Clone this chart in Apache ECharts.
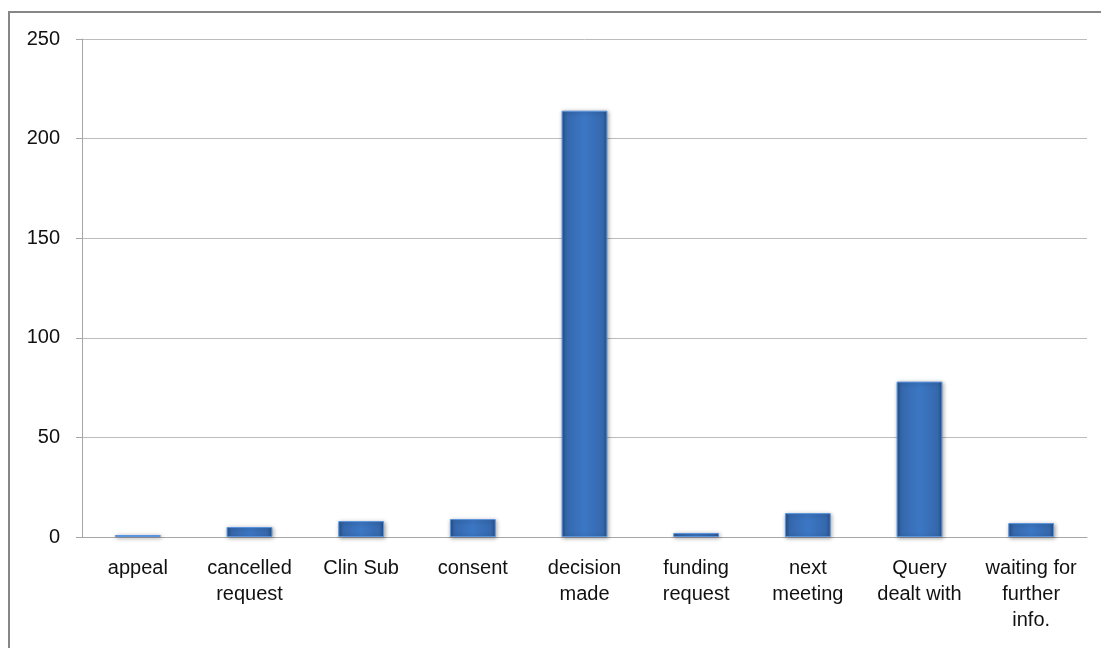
<!DOCTYPE html>
<html>
<head>
<meta charset="utf-8">
<script src="https://cdn.jsdelivr.net/npm/echarts@6/dist/echarts.min.js"></script>
<style>
  html, body { margin: 0; padding: 0; background: #fff; }
  #chart { width: 1101px; height: 648px; }
</style>
</head>
<body>
<div id="chart"></div>
<script>
// category labels (as wrapped in the picture)
var categories = ['appeal', 'cancelled\nrequest', 'Clin Sub', 'consent', 'decision\nmade',
                  'funding\nrequest', 'next\nmeeting', 'Query\ndealt with', 'waiting for\nfurther\ninfo.'];
var counts = [1, 5, 8, 9, 214, 2, 12, 78, 7];
var yTicks = [0, 50, 100, 150, 200, 250];

var chart = echarts.init(document.getElementById('chart'));
var font = "'Liberation Sans', Arial, sans-serif";

var option = {
    animation: false,
    backgroundColor: '#fff',
    graphic: [{
        type: 'rect',
        shape: { x: 9, y: 12, width: 1300, height: 900 },
        style: { fill: 'none', stroke: '#878787', lineWidth: 2 }
    }],
    grid: { left: 82, right: 14, top: 39, bottom: 111 },
    xAxis: {
        type: 'category',
        data: categories,
        axisTick: { show: false },
        axisLine: { lineStyle: { color: '#a6a6a6', width: 1 } },
        axisLabel: {
            interval: 0,
            margin: 18,
            color: '#111',
            fontFamily: font,
            fontSize: 20,
            lineHeight: 26
        }
    },
    yAxis: {
        type: 'value',
        min: yTicks[0],
        max: yTicks[yTicks.length - 1],
        interval: 50,
        axisLine: { show: true, lineStyle: { color: '#a6a6a6' } },
        axisTick: { show: true, length: 6, lineStyle: { color: '#a6a6a6' } },
        splitLine: { lineStyle: { color: '#bcbcbc' } },
        axisLabel: {
            margin: 22,
            color: '#111',
            fontFamily: font,
            fontSize: 20
        }
    },
    series: [{
        type: 'bar',
        data: counts,
        barWidth: '41%',
        itemStyle: {
            color: new echarts.graphic.LinearGradient(0, 0, 1, 0, [
                { offset: 0, color: '#284f86' },
                { offset: 0.1, color: '#3568ad' },
                { offset: 0.5, color: '#3c77c4' },
                { offset: 0.9, color: '#3568ad' },
                { offset: 1, color: '#284f86' }
            ]),
            borderColor: '#5a94de',
            borderWidth: 1,
            shadowColor: 'rgba(0,0,0,0.35)',
            shadowBlur: 4,
            shadowOffsetX: 1,
            shadowOffsetY: 1
        }
    }]
};

chart.setOption(option);
</script>
</body>
</html>
